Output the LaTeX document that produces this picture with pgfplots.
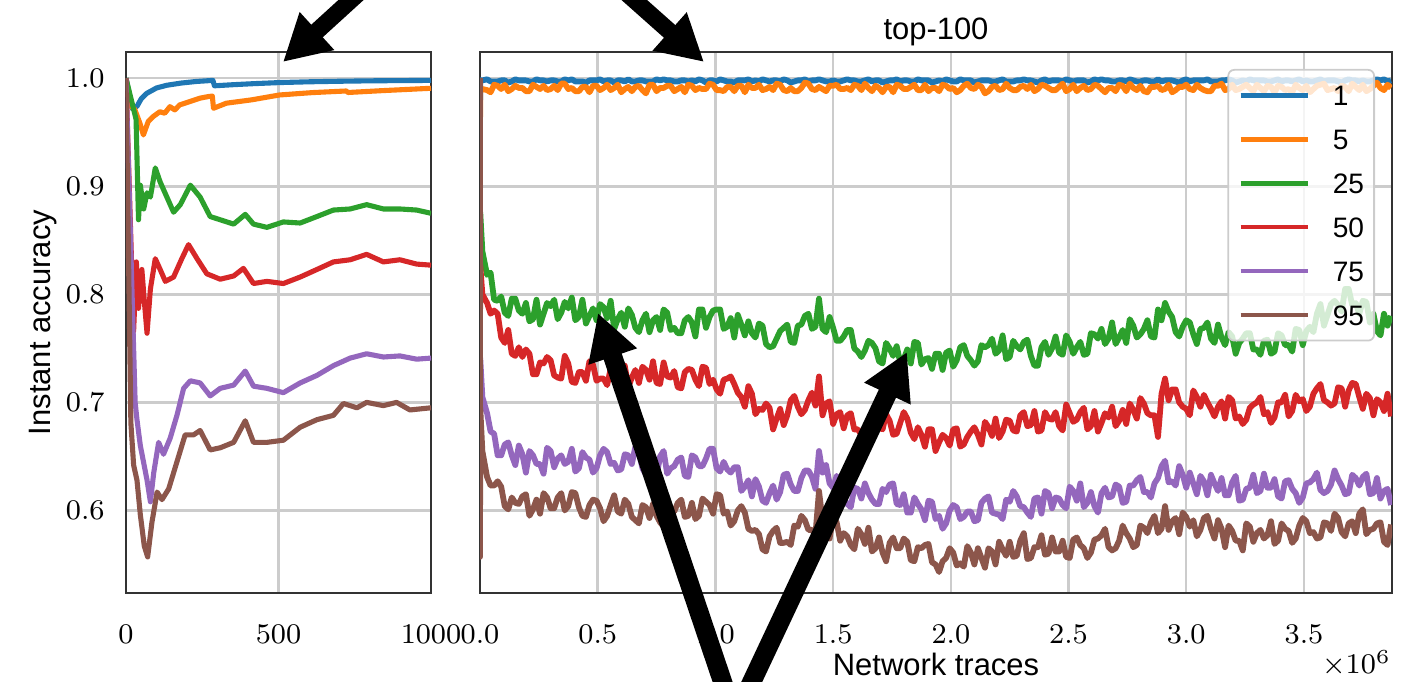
\documentclass[border=0pt]{standalone}
\usepackage{fix-cm}
\usepackage{fontspec}
\usepackage{pgfplots}
\usepackage{pgfplotstable}
\pgfplotsset{compat=1.18}
\usetikzlibrary{arrows.meta}
\newfontfamily\lsans{Liberation Sans}
\definecolor{c0}{HTML}{1F77B4}
\definecolor{c1}{HTML}{FF7F0E}
\definecolor{c2}{HTML}{2CA02C}
\definecolor{c3}{HTML}{D62728}
\definecolor{c4}{HTML}{9467BD}
\definecolor{c5}{HTML}{8C564B}
\definecolor{gridc}{HTML}{CCCCCC}
\definecolor{framec}{HTML}{333333}

\pgfplotstableread{
x b o g r p n
0 1.0 1.0 1.0 1.0 1.0 1.0
100 0.970 0.950 0.870 0.765 0.605 0.557
1000 0.998 0.990 0.876 0.827 0.741 0.695
10000 0.998 0.990 0.840 0.800 0.705 0.655
30000 0.999 0.989 0.818 0.792 0.690 0.631
45000 0.997 0.987 0.820 0.782 0.673 0.623
60000 0.997 0.994 0.795 0.785 0.671 0.623
75000 0.997 0.993 0.794 0.782 0.651 0.627
90000 0.998 0.990 0.798 0.760 0.651 0.622
105000 0.998 0.994 0.783 0.755 0.661 0.604
120000 0.996 0.988 0.780 0.767 0.663 0.601
135000 0.997 0.990 0.796 0.745 0.651 0.612
150000 0.999 0.993 0.796 0.743 0.642 0.607
165000 0.998 0.991 0.785 0.751 0.660 0.606
180000 0.998 0.991 0.782 0.742 0.652 0.613
195000 0.998 0.988 0.792 0.749 0.635 0.615
210000 0.997 0.988 0.775 0.745 0.655 0.595
225000 0.997 0.994 0.777 0.726 0.651 0.601
240000 0.999 0.992 0.795 0.726 0.643 0.610
255000 0.998 0.990 0.772 0.737 0.643 0.597
270000 0.998 0.993 0.782 0.736 0.634 0.616
285000 0.997 0.989 0.792 0.742 0.658 0.612
300000 0.998 0.990 0.789 0.739 0.655 0.602
315000 0.998 0.993 0.795 0.725 0.640 0.602
330000 0.997 0.989 0.777 0.723 0.648 0.612
345000 0.997 0.995 0.783 0.722 0.651 0.616
360000 0.999 0.995 0.793 0.743 0.643 0.600
375000 0.998 0.990 0.787 0.736 0.645 0.604
390000 0.999 0.991 0.797 0.719 0.657 0.617
405000 0.997 0.988 0.776 0.718 0.636 0.616
420000 0.997 0.988 0.779 0.728 0.639 0.603
435000 0.997 0.992 0.795 0.728 0.654 0.595
450000 0.996 0.992 0.773 0.720 0.649 0.594
465000 0.998 0.987 0.780 0.738 0.647 0.605
480000 0.998 0.993 0.787 0.735 0.635 0.610
495000 0.998 0.993 0.776 0.720 0.639 0.609
510000 0.999 0.989 0.791 0.722 0.651 0.602
525000 0.997 0.991 0.788 0.722 0.657 0.590
540000 0.998 0.994 0.778 0.716 0.654 0.595
555000 0.998 0.989 0.794 0.731 0.643 0.605
570000 0.996 0.991 0.768 0.732 0.644 0.614
585000 0.998 0.994 0.777 0.715 0.637 0.599
600000 0.998 0.987 0.783 0.727 0.638 0.597
615000 0.997 0.990 0.770 0.734 0.652 0.610
630000 0.999 0.992 0.787 0.714 0.651 0.606
645000 0.997 0.988 0.781 0.723 0.643 0.594
660000 0.997 0.992 0.769 0.730 0.659 0.591
675000 0.998 0.993 0.765 0.718 0.653 0.588
690000 0.998 0.989 0.776 0.733 0.639 0.605
705000 0.997 0.986 0.782 0.730 0.633 0.603
720000 0.997 0.994 0.765 0.721 0.644 0.593
735000 0.997 0.994 0.776 0.738 0.644 0.606
750000 0.999 0.988 0.779 0.718 0.632 0.595
765000 0.998 0.991 0.767 0.717 0.650 0.589
780000 0.999 0.991 0.786 0.737 0.655 0.585
795000 0.998 0.993 0.783 0.724 0.634 0.586
810000 0.998 0.993 0.767 0.723 0.639 0.601
825000 0.997 0.988 0.769 0.729 0.641 0.599
840000 0.997 0.990 0.764 0.714 0.647 0.607
855000 0.998 0.992 0.764 0.713 0.649 0.610
870000 0.998 0.987 0.776 0.728 0.632 0.594
885000 0.997 0.994 0.779 0.731 0.631 0.595
900000 0.998 0.993 0.774 0.730 0.651 0.607
915000 0.997 0.989 0.761 0.721 0.649 0.592
930000 0.999 0.991 0.786 0.715 0.641 0.595
945000 0.998 0.990 0.786 0.733 0.641 0.611
960000 0.996 0.990 0.769 0.732 0.648 0.608
975000 0.998 0.995 0.779 0.717 0.657 0.605
990000 0.998 0.994 0.785 0.721 0.657 0.597
1005000 0.997 0.989 0.786 0.712 0.639 0.615
1020000 0.999 0.989 0.786 0.708 0.636 0.614
1035000 0.998 0.988 0.768 0.721 0.645 0.597
1050000 0.997 0.992 0.770 0.722 0.638 0.599
1065000 0.997 0.992 0.778 0.724 0.635 0.586
1080000 0.996 0.988 0.760 0.717 0.640 0.590
1095000 0.998 0.993 0.781 0.709 0.640 0.600
1110000 0.998 0.993 0.772 0.705 0.618 0.604
1125000 0.998 0.987 0.762 0.696 0.622 0.598
1140000 0.999 0.994 0.775 0.715 0.628 0.583
1155000 0.997 0.991 0.764 0.708 0.613 0.581
1170000 0.998 0.991 0.760 0.689 0.629 0.582
1185000 0.997 0.994 0.773 0.694 0.622 0.578
1200000 0.999 0.989 0.771 0.693 0.609 0.564
1215000 0.998 0.990 0.754 0.699 0.607 0.562
1230000 0.997 0.992 0.751 0.695 0.616 0.576
1245000 0.998 0.989 0.752 0.675 0.623 0.581
1260000 0.998 0.995 0.759 0.685 0.610 0.584
1275000 0.997 0.994 0.766 0.694 0.617 0.570
1290000 0.999 0.989 0.769 0.679 0.633 0.570
1305000 0.998 0.988 0.772 0.688 0.634 0.571
1320000 0.996 0.991 0.756 0.702 0.624 0.568
1335000 0.997 0.988 0.755 0.706 0.618 0.586
1350000 0.998 0.988 0.771 0.696 0.618 0.585
1365000 0.998 0.991 0.772 0.689 0.630 0.595
1380000 0.999 0.996 0.780 0.693 0.637 0.591
1395000 0.997 0.995 0.782 0.702 0.637 0.582
1410000 0.998 0.990 0.768 0.709 0.631 0.582
1425000 0.998 0.989 0.770 0.697 0.620 0.578
1440000 0.999 0.992 0.796 0.724 0.655 0.618
1455000 0.998 0.990 0.768 0.688 0.635 0.591
1470000 0.997 0.988 0.765 0.699 0.642 0.591
1485000 0.997 0.993 0.779 0.701 0.625 0.574
1500000 0.998 0.993 0.769 0.680 0.621 0.594
1515000 0.997 0.994 0.757 0.689 0.632 0.589
1530000 0.997 0.990 0.757 0.691 0.625 0.572
1545000 0.998 0.990 0.761 0.676 0.611 0.579
1560000 0.999 0.991 0.767 0.688 0.606 0.576
1575000 0.998 0.989 0.767 0.690 0.603 0.568
1590000 0.998 0.994 0.750 0.675 0.621 0.564
1605000 0.997 0.993 0.747 0.675 0.620 0.583
1620000 0.997 0.989 0.742 0.670 0.611 0.578
1635000 0.998 0.995 0.748 0.670 0.625 0.569
1650000 0.999 0.991 0.757 0.683 0.616 0.584
1665000 0.997 0.988 0.755 0.685 0.610 0.562
1680000 0.998 0.993 0.750 0.692 0.606 0.565
1695000 0.998 0.991 0.738 0.677 0.606 0.575
1710000 0.996 0.987 0.736 0.675 0.620 0.561
1725000 0.997 0.992 0.755 0.689 0.617 0.553
1740000 0.998 0.992 0.750 0.683 0.624 0.570
1755000 0.998 0.987 0.743 0.670 0.625 0.575
1770000 0.999 0.994 0.752 0.671 0.606 0.565
1785000 0.997 0.993 0.737 0.681 0.605 0.565
1800000 0.998 0.990 0.740 0.691 0.615 0.574
1815000 0.998 0.990 0.749 0.685 0.598 0.571
1830000 0.997 0.992 0.736 0.672 0.598 0.554
1845000 0.997 0.994 0.756 0.666 0.612 0.553
1860000 0.999 0.989 0.755 0.677 0.606 0.566
1875000 0.998 0.989 0.735 0.670 0.601 0.565
1890000 0.998 0.994 0.740 0.659 0.591 0.568
1905000 0.998 0.988 0.741 0.675 0.609 0.569
1920000 0.996 0.991 0.731 0.675 0.608 0.552
1935000 0.997 0.991 0.745 0.655 0.592 0.550
1950000 0.998 0.988 0.745 0.663 0.595 0.543
1965000 0.997 0.994 0.730 0.670 0.583 0.553
1980000 0.999 0.993 0.746 0.667 0.588 0.556
1995000 0.998 0.990 0.748 0.660 0.600 0.565
2010000 0.997 0.991 0.733 0.675 0.605 0.561
2025000 0.997 0.987 0.739 0.676 0.603 0.549
2040000 0.999 0.989 0.751 0.659 0.592 0.551
2055000 0.998 0.993 0.753 0.661 0.594 0.548
2070000 0.998 0.995 0.743 0.668 0.599 0.567
2085000 0.998 0.991 0.739 0.673 0.599 0.561
2100000 0.996 0.990 0.734 0.677 0.590 0.550
2115000 0.997 0.994 0.738 0.670 0.591 0.565
2130000 0.998 0.992 0.753 0.661 0.607 0.556
2145000 0.998 0.986 0.751 0.682 0.611 0.547
2160000 0.998 0.988 0.753 0.677 0.613 0.565
2175000 0.997 0.992 0.759 0.669 0.598 0.562
2190000 0.997 0.993 0.745 0.685 0.597 0.550
2205000 0.998 0.989 0.748 0.667 0.596 0.571
2220000 0.999 0.990 0.762 0.673 0.592 0.564
2235000 0.997 0.995 0.740 0.684 0.610 0.558
2250000 0.997 0.991 0.742 0.683 0.608 0.571
2265000 0.997 0.989 0.757 0.674 0.618 0.557
2280000 0.998 0.989 0.752 0.673 0.613 0.558
2295000 0.998 0.992 0.749 0.688 0.604 0.572
2310000 0.999 0.993 0.756 0.691 0.603 0.579
2325000 0.998 0.990 0.758 0.678 0.598 0.555
2340000 0.998 0.994 0.743 0.679 0.594 0.556
2355000 0.997 0.988 0.734 0.692 0.611 0.566
2370000 0.996 0.990 0.734 0.673 0.612 0.566
2385000 0.998 0.994 0.751 0.674 0.597 0.577
2400000 0.999 0.993 0.756 0.691 0.618 0.559
2415000 0.997 0.991 0.744 0.685 0.616 0.560
2430000 0.998 0.989 0.750 0.684 0.602 0.575
2445000 0.998 0.989 0.761 0.691 0.612 0.562
2460000 0.998 0.992 0.746 0.678 0.611 0.562
2475000 0.997 0.995 0.744 0.674 0.605 0.572
2490000 0.999 0.988 0.762 0.698 0.602 0.557
2505000 0.998 0.990 0.756 0.690 0.622 0.556
2520000 0.997 0.994 0.745 0.682 0.618 0.573
2535000 0.998 0.988 0.751 0.684 0.609 0.575
2550000 0.998 0.991 0.756 0.691 0.625 0.568
2565000 0.998 0.993 0.744 0.695 0.603 0.565
2580000 0.996 0.989 0.745 0.675 0.607 0.556
2595000 0.997 0.990 0.764 0.678 0.617 0.561
2610000 0.999 0.994 0.763 0.692 0.604 0.573
2625000 0.998 0.993 0.759 0.673 0.598 0.574
2640000 0.999 0.990 0.768 0.681 0.616 0.577
2655000 0.998 0.987 0.754 0.690 0.621 0.583
2670000 0.998 0.991 0.759 0.686 0.612 0.566
2685000 0.997 0.991 0.774 0.696 0.613 0.563
2700000 0.997 0.988 0.754 0.678 0.624 0.565
2715000 0.998 0.994 0.760 0.683 0.622 0.572
2730000 0.998 0.993 0.767 0.693 0.607 0.586
2745000 0.997 0.988 0.755 0.680 0.608 0.579
2760000 0.999 0.995 0.777 0.699 0.623 0.574
2775000 0.998 0.991 0.771 0.693 0.623 0.566
2790000 0.997 0.989 0.760 0.685 0.628 0.568
2805000 0.997 0.993 0.763 0.704 0.631 0.586
2820000 0.998 0.988 0.768 0.699 0.617 0.584
2835000 0.998 0.987 0.776 0.690 0.617 0.579
2850000 0.997 0.992 0.761 0.688 0.612 0.589
2865000 0.997 0.992 0.760 0.688 0.625 0.595
2880000 0.999 0.993 0.786 0.668 0.630 0.579
2895000 0.997 0.989 0.776 0.708 0.641 0.583
2910000 0.998 0.990 0.792 0.722 0.646 0.604
2925000 0.998 0.994 0.784 0.702 0.626 0.582
2940000 0.998 0.987 0.779 0.712 0.627 0.590
2955000 0.997 0.989 0.765 0.712 0.623 0.593
2970000 0.996 0.992 0.761 0.700 0.641 0.578
2985000 0.998 0.992 0.770 0.696 0.633 0.598
3000000 0.999 0.994 0.776 0.694 0.621 0.594
3015000 0.997 0.990 0.774 0.688 0.635 0.585
3030000 0.998 0.989 0.763 0.711 0.625 0.591
3045000 0.998 0.994 0.754 0.705 0.615 0.576
3060000 0.998 0.991 0.768 0.696 0.632 0.582
3075000 0.998 0.989 0.769 0.707 0.627 0.593
3090000 0.999 0.988 0.774 0.700 0.614 0.595
3105000 0.997 0.988 0.759 0.694 0.633 0.583
3120000 0.997 0.993 0.755 0.687 0.625 0.574
3135000 0.997 0.993 0.772 0.696 0.618 0.591
3150000 0.998 0.995 0.760 0.701 0.630 0.583
3165000 0.998 0.989 0.753 0.685 0.614 0.566
3180000 0.999 0.990 0.765 0.705 0.614 0.586
3195000 0.998 0.994 0.761 0.702 0.626 0.581
3210000 0.996 0.989 0.745 0.685 0.632 0.572
3225000 0.997 0.990 0.755 0.687 0.609 0.572
3240000 0.998 0.992 0.759 0.680 0.610 0.563
3255000 0.997 0.994 0.764 0.684 0.620 0.588
3270000 0.999 0.991 0.764 0.695 0.621 0.585
3285000 0.998 0.988 0.749 0.698 0.633 0.571
3300000 0.998 0.994 0.749 0.700 0.616 0.579
3315000 0.998 0.991 0.744 0.705 0.618 0.582
3330000 0.998 0.988 0.757 0.689 0.634 0.574
3345000 0.997 0.993 0.758 0.691 0.621 0.577
3360000 0.997 0.992 0.745 0.681 0.621 0.590
3375000 0.998 0.987 0.747 0.686 0.629 0.569
3390000 0.999 0.993 0.764 0.700 0.613 0.572
3405000 0.997 0.992 0.762 0.700 0.611 0.588
3420000 0.998 0.989 0.753 0.707 0.627 0.583
3435000 0.998 0.990 0.753 0.687 0.628 0.581
3450000 0.997 0.987 0.747 0.692 0.620 0.570
3465000 0.998 0.994 0.768 0.707 0.616 0.574
3480000 0.999 0.991 0.767 0.701 0.607 0.586
3495000 0.997 0.989 0.753 0.703 0.612 0.593
3510000 0.998 0.993 0.766 0.692 0.625 0.590
3525000 0.997 0.987 0.770 0.696 0.626 0.579
3540000 0.997 0.990 0.765 0.708 0.629 0.580
3555000 0.998 0.993 0.782 0.713 0.635 0.574
3570000 0.999 0.994 0.791 0.717 0.619 0.575
3585000 0.997 0.995 0.771 0.702 0.616 0.589
3600000 0.998 0.989 0.781 0.700 0.618 0.588
3615000 0.998 0.990 0.791 0.697 0.624 0.581
3630000 0.998 0.991 0.794 0.699 0.637 0.597
3645000 0.997 0.988 0.790 0.714 0.629 0.593
3660000 0.996 0.993 0.784 0.713 0.623 0.580
3675000 0.998 0.992 0.805 0.696 0.615 0.576
3690000 0.999 0.988 0.805 0.711 0.616 0.588
3705000 0.998 0.995 0.790 0.718 0.633 0.590
3720000 0.998 0.992 0.792 0.717 0.630 0.579
3735000 0.997 0.989 0.782 0.705 0.623 0.597
3750000 0.998 0.994 0.794 0.694 0.631 0.601
3765000 0.997 0.988 0.793 0.708 0.634 0.578
3780000 0.997 0.990 0.774 0.704 0.615 0.582
3795000 0.998 0.993 0.782 0.688 0.616 0.583
3810000 0.999 0.996 0.766 0.703 0.630 0.588
3825000 0.998 0.991 0.762 0.700 0.611 0.589
3840000 0.999 0.989 0.782 0.692 0.618 0.571
3855000 0.997 0.994 0.771 0.708 0.620 0.568
3870000 0.998 0.991 0.780 0.687 0.605 0.587
}\rightdata

\pgfplotsset{
  base/.style={
    scale only axis, anchor=south west,
    axis line style={framec, line width=0.75pt},
    grid=major, major grid style={gridc, line width=0.7pt},
    major tick length=0pt,
    ymin=0.5236, ymax=1.0243,
    ytick={0.6,0.7,0.8,0.9,1.0},
    tick label style={font=\fontsize{8.1}{9}\selectfont},
    xticklabel style={yshift=-0.2cm},
    yticklabel style={xshift=-0.09cm},
    scaled x ticks=false, scaled y ticks=false,
  }
}

\begin{document}
\begin{tikzpicture}
\begin{axis}[base,
  at={(1.26cm,0.89cm)}, width=3.05cm, height=5.41cm,
  every axis plot/.append style={line width=1.45pt, line join=round},
  xmin=0, xmax=1000, xtick={0,500,1000}, xticklabels={$0$,$500$,$1000$},
  yticklabels={$0.6$,$0.7$,$0.8$,$0.9$,$1.0$},
  ylabel={Instant accuracy},
  every axis y label/.style={at={(axis description cs:-0.249,0.5)}, rotate=90, anchor=base, font=\lsans\fontsize{8.8}{10}\selectfont},
]
\addplot[c0] coordinates {(0,1.0)(20,0.972)(36,0.974)(50,0.981)(68,0.986)(100,0.991)(134,0.9935)(180,0.9955)(230,0.997)(285,0.998)(290,0.993)(350,0.994)(420,0.995)(505,0.996)(600,0.9967)(700,0.9972)(800,0.9976)(900,0.9978)(1000,0.998)};
\addplot[c1] coordinates {(0,1.0)(12,0.975)(29,0.971)(46,0.958)(57,0.9475)(73,0.960)(89,0.9645)(111,0.969)(127,0.9676)(144,0.9737)(160,0.9707)(176,0.9753)(209,0.9784)(242,0.9815)(269,0.983)(283,0.9835)(287,0.9722)(329,0.9769)(412,0.980)(503,0.9845)(611,0.9867)(722,0.9882)(728,0.9868)(839,0.9885)(1000,0.9907)};
\addplot[c2] coordinates {(0,1.0)(33,0.962)(41,0.869)(47,0.901)(58,0.879)(69,0.894)(80,0.890)(96,0.917)(112,0.904)(134,0.890)(156,0.876)(178,0.883)(211,0.901)(243,0.890)(276,0.872)(309,0.869)(353,0.865)(391,0.874)(418,0.865)(462,0.862)(516,0.867)(571,0.866)(626,0.872)(680,0.878)(735,0.879)(789,0.883)(844,0.879)(898,0.879)(953,0.878)(1000,0.875)};
\addplot[c3] coordinates {(0,1.0)(25,0.766)(34,0.830)(41,0.787)(52,0.823)(60,0.794)(69,0.764)(80,0.805)(96,0.833)(112,0.823)(129,0.812)(156,0.816)(183,0.833)(205,0.846)(233,0.833)(265,0.819)(309,0.814)(353,0.817)(385,0.824)(418,0.810)(462,0.812)(516,0.810)(571,0.816)(626,0.823)(680,0.830)(735,0.832)(789,0.837)(844,0.830)(898,0.832)(953,0.828)(1000,0.827)};
\addplot[c4] coordinates {(0,1.0)(30,0.700)(36,0.684)(47,0.660)(69,0.628)(80,0.608)(91,0.635)(107,0.663)(123,0.652)(145,0.667)(167,0.688)(189,0.713)(211,0.720)(243,0.718)(276,0.706)(309,0.713)(353,0.716)(391,0.729)(418,0.715)(462,0.713)(516,0.709)(571,0.718)(626,0.725)(680,0.734)(735,0.741)(789,0.745)(844,0.742)(898,0.743)(953,0.740)(1000,0.741)};
\addplot[c5] coordinates {(0,1.0)(16,0.681)(25,0.642)(36,0.628)(47,0.596)(60,0.567)(71,0.557)(85,0.589)(102,0.617)(118,0.610)(140,0.620)(167,0.645)(194,0.670)(222,0.670)(243,0.674)(276,0.656)(309,0.658)(353,0.663)(391,0.683)(418,0.663)(462,0.663)(516,0.665)(571,0.677)(626,0.684)(680,0.688)(713,0.699)(757,0.695)(789,0.700)(844,0.697)(887,0.700)(931,0.693)(1000,0.695)};
\end{axis}

\begin{axis}[base,
  at={(4.80cm,0.89cm)}, width=9.12cm, height=5.41cm,
  every axis plot/.append style={line width=1.65pt, line join=round},
  clip mode=individual,
  xmin=0, xmax=3874000,
  xtick={0,500000,1000000,1500000,2000000,2500000,3000000,3500000},
  xticklabels={$0.0$,$0.5$,$1.0$,$1.5$,$2.0$,$2.5$,$3.0$,$3.5$},
  yticklabels={},
  title={top-100},
  every axis title/.style={at={(axis description cs:0.5,1.0222)}, anchor=base, font=\lsans\fontsize{8.8}{10}\selectfont},
  xlabel={Network traces},
  every axis x label/.style={at={(axis description cs:0.5,-0.1516)}, anchor=base, font=\lsans\fontsize{8.8}{10}\selectfont},
  legend style={at={(axis description cs:1,1)}, anchor=north east, xshift=-0.17cm, yshift=-0.17cm,
    fill=white, fill opacity=0.8, draw opacity=1, text opacity=1, draw=gridc, line width=0.5pt,
    rounded corners=0.06cm, font=\lsans\fontsize{8}{9}\selectfont,
    inner xsep=0.1cm, inner ysep=0.15cm, row sep=6.5pt,
    nodes={inner sep=0pt, text height=6pt, text depth=0pt},
    /tikz/every odd column/.style={column sep=0.23cm}},
  legend cell align=left,
  legend image code/.code={\draw[#1, line width=1.3pt, rounded corners=0pt] (0cm,0cm) -- (0.67cm,0cm);},
]
\addplot[c0] table[x=x,y=b]{\rightdata};
\addplot[c1] table[x=x,y=o]{\rightdata};
\addplot[c2] table[x=x,y=g]{\rightdata};
\addplot[c3] table[x=x,y=r]{\rightdata};
\addplot[c4] table[x=x,y=p]{\rightdata};
\addplot[c5] table[x=x,y=n]{\rightdata};
\legend{1,5,25,50,75,95}
\node[anchor=north east, inner sep=0pt, font=\fontsize{8.1}{9}\selectfont] at (axis description cs:1,-0.105) {$\times10^{6}$};
\end{axis}

\draw[line width=0.17cm, -{Triangle[length=0.46cm,width=0.48cm]}] (3.62,6.92) -- (2.83,6.20);
\draw[line width=0.17cm, -{Triangle[length=0.46cm,width=0.48cm]}] (6.23,6.92) -- (7.04,6.20);
\draw[line width=0.19cm, -{Triangle[length=0.46cm,width=0.48cm]}] (7.26,-0.10) -- (5.98,3.69);
\draw[line width=0.19cm, -{Triangle[length=0.46cm,width=0.48cm]}] (7.47,-0.10) -- (9.07,3.30);

\pgfresetboundingbox
\useasboundingbox (0,0) rectangle (14.2,6.82);
\end{tikzpicture}
\end{document}
